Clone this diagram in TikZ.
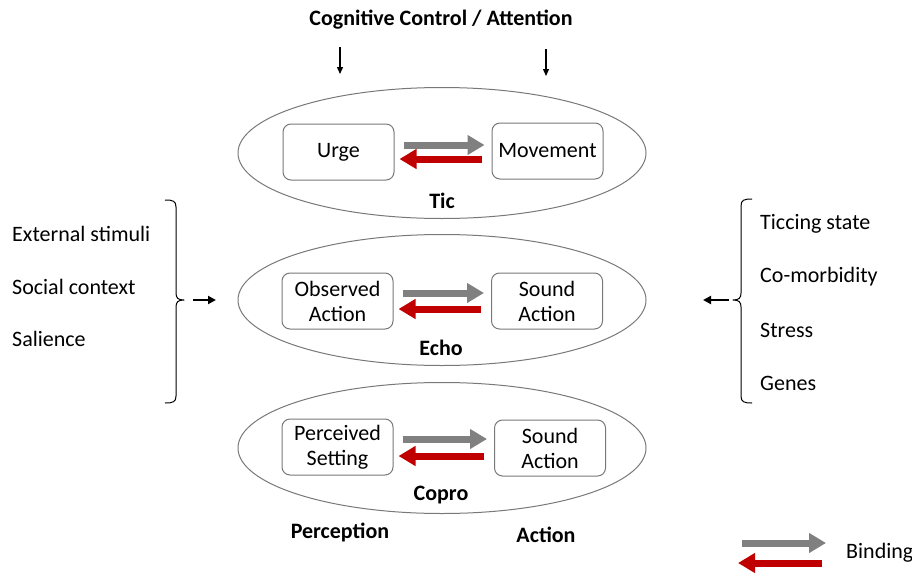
\documentclass[tikz,border=0pt]{standalone}
\usepackage{fontspec}
\setmainfont{Carlito}
\usetikzlibrary{arrows.meta,shapes.geometric}
\definecolor{bindgray}{RGB}{128,128,128}
\definecolor{bindred}{RGB}{192,0,0}
\definecolor{edgegray}{RGB}{120,120,120}
\tikzset{
  txt/.style={font=\fontsize{22}{25}\selectfont, inner sep=0pt},
  btxt/.style={font=\fontsize{22}{25}\selectfont\bfseries, inner sep=0pt},
  oval/.style={draw=edgegray, line width=1pt, ellipse, inner sep=0pt, minimum width=408pt, minimum height=131pt},
  box/.style={draw=edgegray, line width=1pt, rounded corners=8pt, minimum width=111pt, minimum height=56pt, align=center, inner sep=0pt, font=\fontsize{22}{25}\selectfont},
  fwd/.style={draw=bindgray, line width=7pt, -{Triangle[length=17pt,width=19pt]}},
  back/.style={draw=bindred, line width=7pt, -{Triangle[length=17pt,width=19pt]}},
  thin/.style={line width=1.3pt, -{Triangle[length=7pt,width=6pt]}},
  side/.style={line width=2pt, -{Triangle[length=8pt,width=8pt]}},
  brace/.style={line width=1pt, line join=round}
}
\begin{document}
\begin{tikzpicture}[x=1pt,y=-1pt]
\useasboundingbox (0,0) rectangle (912,573);

% title and top arrows
\node[btxt] (title) at (441,20) {Cognitive Control / Attention};
\coordinate (ca1) at (340,47);
\coordinate (ca2) at (340,74);
\coordinate (cb1) at (546,49);
\coordinate (cb2) at (546,76);
\draw[thin] (ca1) -- (ca2);
\draw[thin] (cb1) -- (cb2);

% ellipses
\node[oval] (tic) at (442,153) {};
\node[oval] (echo) at (442,300) {};
\node[oval] (copro) at (442,448) {};

% Tic
\node[box] (urge) at (338.5,152) {Urge};
\node[box] (move) at (547.5,151) {Movement};
\draw[fwd, shorten <=9pt, shorten >=7pt] ([yshift=7pt]urge.east) -- ([yshift=7pt]urge.east -| move.west);
\draw[back, shorten <=10pt, shorten >=5pt] ([yshift=-8pt]move.west) -- ([yshift=-8pt]move.west -| urge.east);
\node[btxt] (ticl) at (442,201) {Tic};

% Echo
\node[box] (obs) at (337.5,301) {Observed\\Action};
\node[box] (snd1) at (547,301) {Sound\\Action};
\draw[fwd, shorten <=9pt, shorten >=7pt] ([yshift=8pt]obs.east) -- ([yshift=8pt]obs.east -| snd1.west);
\draw[back, shorten <=10pt, shorten >=5pt] ([yshift=-8pt]snd1.west) -- ([yshift=-8pt]snd1.west -| obs.east);
\node[btxt] (echol) at (441,348) {Echo};

% Copro
\node[box] (perc) at (337.5,447) {Perceived\\Setting};
\node[box] (snd2) at (550,448) {Sound\\Action};
\draw[fwd, shorten <=9pt, shorten >=7pt] ([yshift=8pt]perc.east) -- ([yshift=8pt]perc.east -| snd2.west);
\draw[back, shorten <=10pt, shorten >=5pt] ([yshift=-8pt]snd2.west) -- ([yshift=-8pt]snd2.west -| perc.east);
\node[btxt] (coprol) at (441,495) {Copro};

% bottom labels
\node[btxt] (percl) at (340,532) {Perception};
\node[btxt] (actl) at (546,535) {Action};

% left side
\node[txt, anchor=west] (ext) at (12,234) {External stimuli};
\node[txt, anchor=west] (soc) at (12,287) {Social context};
\node[txt, anchor=west] (sal) at (12,339) {Salience};
\draw[brace] (165,200) .. controls (173,200) and (176,201) .. (176,207) -- (176,293)
  .. controls (176,298) and (178,300) .. (184,300)
  .. controls (178,300) and (176,302) .. (176,307) -- (176,396)
  .. controls (176,402) and (173,403) .. (165,403);
\coordinate (la1) at (193,300);
\coordinate (la2) at (216,300);
\draw[side] (la1) -- (la2);

% right side
\node[txt, anchor=west] (tics) at (760,224) {Ticcing state};
\node[txt, anchor=west] (com) at (760,277) {Co-morbidity};
\node[txt, anchor=west] (str) at (760,330) {Stress};
\node[txt, anchor=west] (gen) at (760,383) {Genes};
\draw[brace] (752,199) .. controls (744,199) and (741,200) .. (741,206) -- (741,293)
  .. controls (741,298) and (739,300) .. (733,300)
  .. controls (739,300) and (741,302) .. (741,307) -- (741,396)
  .. controls (741,402) and (744,403) .. (752,403);
\coordinate (ra1) at (729,300);
\coordinate (ra2) at (703,300);
\draw[side] (ra1) -- (ra2);

% legend
\coordinate (lg1) at (742,543);
\coordinate (lg2) at (826,543);
\coordinate (lr1) at (822,563);
\coordinate (lr2) at (738,563);
\draw[fwd] (lg1) -- (lg2);
\draw[back] (lr1) -- (lr2);
\node[txt, anchor=west] (bind) at (846,553) {Binding};
\end{tikzpicture}
\end{document}
